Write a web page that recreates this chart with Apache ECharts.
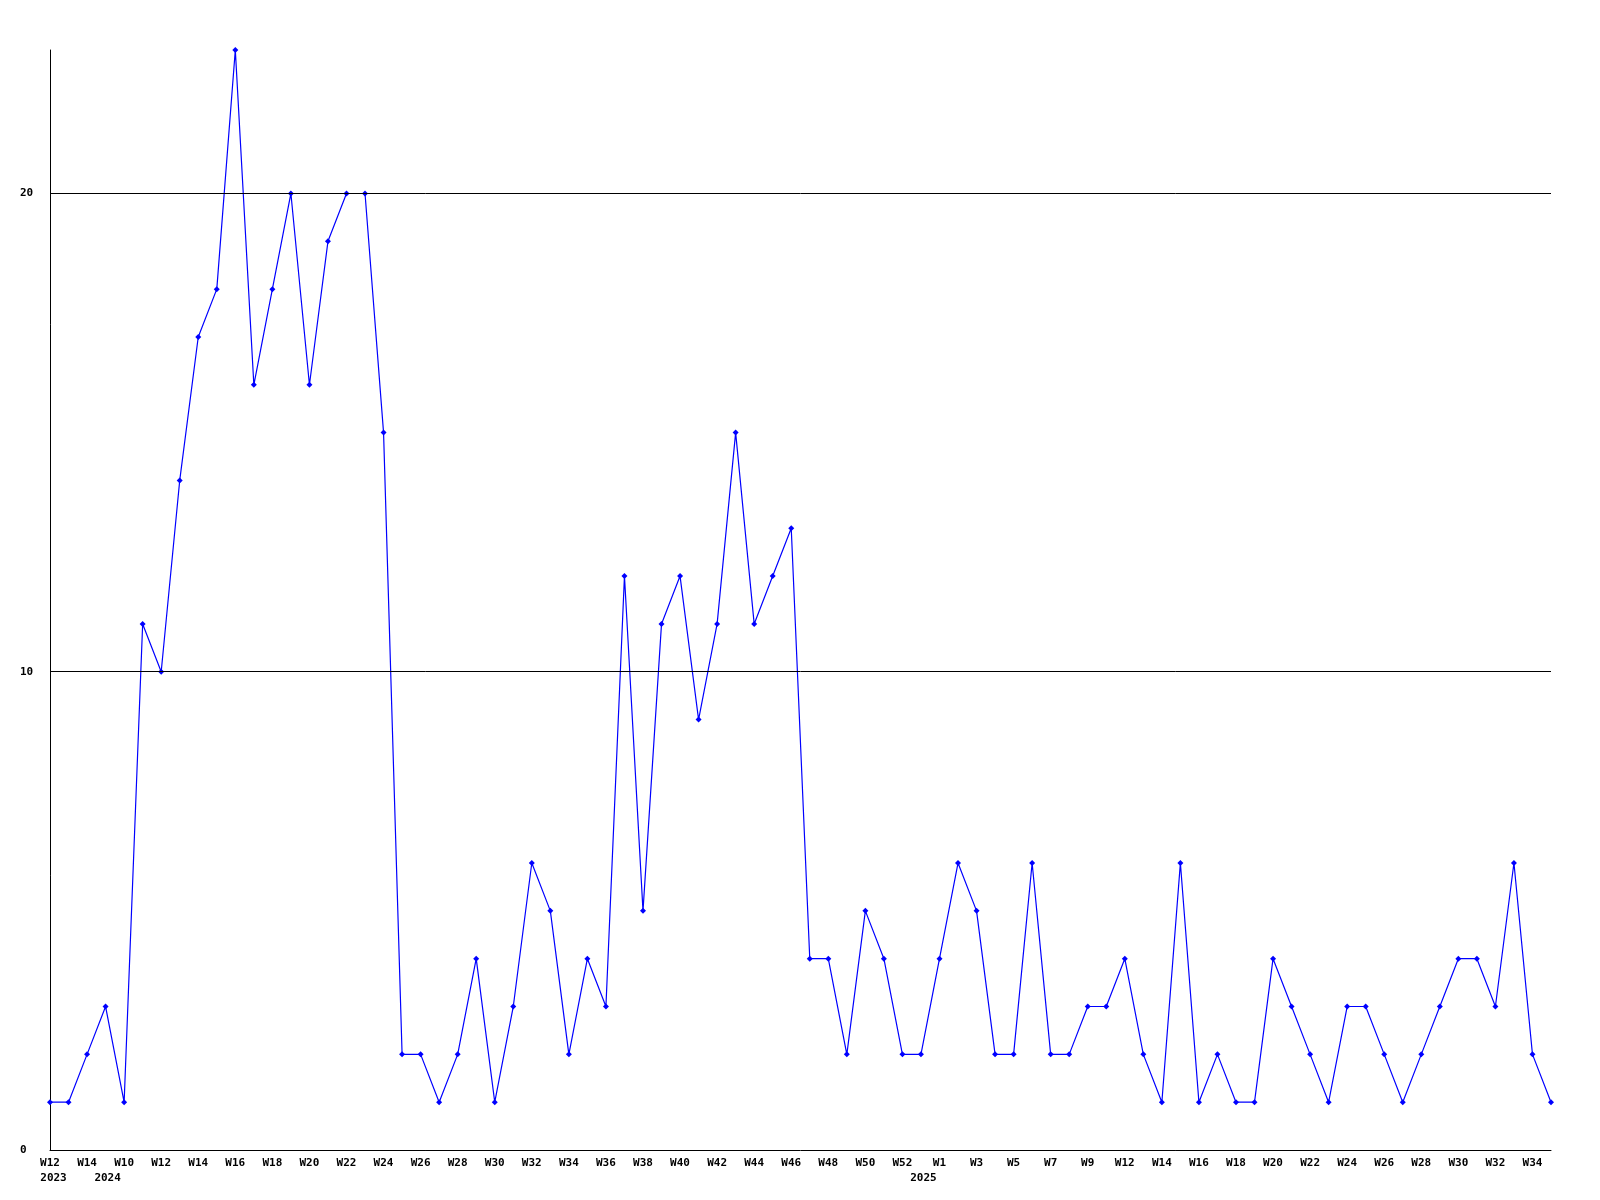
<!DOCTYPE html>
<html>
<head>
<meta charset="utf-8">
<script src="https://cdn.jsdelivr.net/npm/echarts@6/dist/echarts.min.js"></script>
<style>
html,body{margin:0;padding:0;background:#fff;}
#chart{width:1600px;height:1200px;}
</style>
</head>
<body>
<div id="chart"></div>
<script>
// Week categories (year, week)
const years = [
  2023,2023,2023,2023,
  2024,2024,2024,2024,2024,2024,2024,2024,2024,2024,2024,2024,2024,2024,2024,2024,2024,2024,2024,2024,2024,2024,2024,2024,2024,2024,2024,2024,2024,2024,2024,2024,2024,2024,2024,2024,2024,2024,2024,2024,2024,2024,2024,2024,
  2025,2025,2025,2025,2025,2025,2025,2025,2025,2025,2025,2025,2025,2025,2025,2025,2025,2025,2025,2025,2025,2025,2025,2025,2025,2025,2025,2025,2025,2025,2025,2025,2025,2025
];
const weeks = [
  12,13,14,15,
  10,11,12,13,14,15,16,17,18,19,20,21,22,23,24,25,26,27,28,29,30,31,32,33,34,35,36,37,38,39,40,41,42,43,44,45,46,47,48,49,50,51,52,53,
  1,2,3,4,5,6,7,8,9,10,12,13,14,15,16,17,18,19,20,21,22,23,24,25,26,27,28,29,30,31,32,33,34,35
];
const values = [
  1,1,2,3,
  1,11,10,14,17,18,23,16,18,20,16,19,20,20,15,2,2,1,2,4,1,3,6,5,2,4,3,12,5,11,12,9,11,15,11,12,13,4,4,2,5,4,2,2,
  4,6,5,2,2,6,2,2,3,3,4,2,1,6,1,2,1,1,4,3,2,1,3,3,2,1,2,3,4,4,3,6,2,1
];
// Year captions shown under the first labelled week of each year
const yearCaptionIndex = {0: '2023', 4: '2024', 48: '2025'};
const gridLines = [10, 20];

const categories = weeks.map((w, i) => years[i] + '-W' + w);

const chart = echarts.init(document.getElementById('chart'), null, {renderer: 'canvas'});
const font = 'DejaVu Sans Mono';
chart.setOption({
  animation: false,
  backgroundColor: '#ffffff',
  grid: {left: 50, right: 49, top: 50, bottom: 50, containLabel: false},
  xAxis: [{
    type: 'category',
    data: categories,
    boundaryGap: false,
    axisLine: {show: true, lineStyle: {color: '#000', width: 1}},
    axisTick: {show: false},
    splitLine: {show: false},
    axisLabel: {
      interval: 1,
      margin: 8,
      color: '#000',
      fontFamily: font,
      fontWeight: 'bold',
      fontSize: 11,
      align: 'center',
      formatter: (v) => 'W' + v.split('-W')[1]
    }
  }, {
    type: 'category',
    data: categories,
    position: 'bottom',
    boundaryGap: false,
    axisLine: {show: false},
    axisTick: {show: false},
    splitLine: {show: false},
    axisLabel: {
      interval: 0,
      margin: 23,
      color: '#000',
      fontFamily: font,
      fontWeight: 'bold',
      fontSize: 11,
      align: 'center',
      formatter: (v, i) => {
        const y = yearCaptionIndex[i];
        if (!y) return '';
        if (i === 0) return '{s1| }{t|' + y + '}';
        if (i === 4) return '{t|' + y + '}{s2| }';
        return '{t|' + y + '}{s3| }';
      },
      rich: {
        t: {fontFamily: font, fontWeight: 'bold', fontSize: 11, color: '#000'},
        s1: {width: 7},
        s2: {width: 33},
        s3: {width: 32}
      }
    }
  }],
  yAxis: {
    type: 'value',
    min: 0,
    max: 23,
    interval: 10,
    axisLine: {show: true, lineStyle: {color: '#000', width: 1}},
    axisTick: {show: false},
    splitLine: {show: false},
    axisLabel: {
      margin: 30,
      align: 'left',
      color: '#000',
      fontFamily: font,
      fontWeight: 'bold',
      fontSize: 11,
      showMaxLabel: false,
      formatter: (v) => (v % 10 === 0 ? String(v) : '')
    }
  },
  series: [{
    type: 'line',
    data: values,
    xAxisIndex: 0,
    symbol: 'diamond',
    symbolSize: 6,
    showAllSymbol: true,
    lineStyle: {color: '#0000ff', width: 1.2},
    itemStyle: {color: '#0000ff'},
    markLine: {
      silent: true,
      symbol: ['none', 'none'],
      label: {show: false},
      lineStyle: {color: '#000', width: 1, type: 'solid'},
      data: gridLines.map(v => ({yAxis: v}))
    },
    z: 3
  }]
});
</script>
</body>
</html>
